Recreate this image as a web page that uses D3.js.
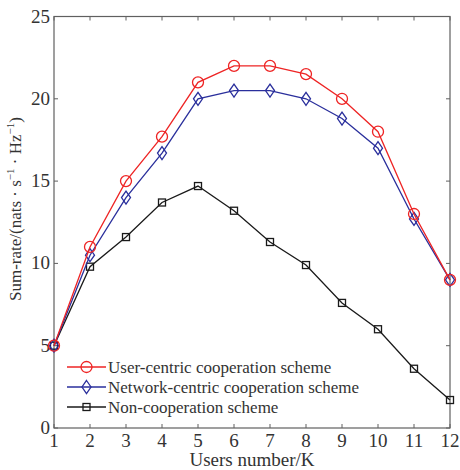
<!DOCTYPE html>
<html>
<head>
<meta charset="utf-8">
<script src="https://cdn.jsdelivr.net/npm/d3@7"></script>
<style>
  body { margin: 0; background: #fff; }
  text { font-family: "Liberation Serif", "Times New Roman", serif; }
</style>
</head>
<body>
<script>
var users = [1, 2, 3, 4, 5, 6, 7, 8, 9, 10, 11, 12];
var userCentric = [5, 11, 15, 17.7, 21, 22, 22, 21.5, 20, 18, 13, 9];
var networkCentric = [5, 10.5, 14, 16.7, 20, 20.5, 20.5, 20, 18.8, 17, 12.7, 9];
var nonCoop = [5, 9.8, 11.6, 13.7, 14.7, 13.2, 11.3, 9.9, 7.6, 6, 3.6, 1.7];
var yTicks = [0, 5, 10, 15, 20, 25];
var seriesNames = ["User-centric cooperation scheme", "Network-centric cooperation scheme", "Non-cooperation scheme"];

var W = 460, H = 470;
// note: "top" is taken by window.top, so use other names
var pLeft = 54, pRight = 450, pTop = 16.5, pBottom = 428;

var svg = d3.select("body").append("svg").attr("width", W).attr("height", H);

var x = d3.scaleLinear().domain([1, 12]).range([pLeft, pRight]);
var y = d3.scaleLinear().domain([0, 25]).range([pBottom, pTop]);

var axisColor = "#606060";

// frame
svg.append("rect")
  .attr("x", pLeft).attr("y", pTop)
  .attr("width", pRight - pLeft).attr("height", pBottom - pTop)
  .attr("fill", "none").attr("stroke", axisColor).attr("stroke-width", 1.2);

// ticks inward on all sides
svg.selectAll("line.xb").data(users).enter().append("line")
  .attr("x1", function (d) { return x(d); }).attr("x2", function (d) { return x(d); })
  .attr("y1", pBottom).attr("y2", pBottom - 4)
  .attr("stroke", axisColor);
svg.selectAll("line.xt").data(users).enter().append("line")
  .attr("x1", function (d) { return x(d); }).attr("x2", function (d) { return x(d); })
  .attr("y1", pTop).attr("y2", pTop + 4)
  .attr("stroke", axisColor);
svg.selectAll("line.yl").data(yTicks).enter().append("line")
  .attr("x1", pLeft).attr("x2", pLeft + 4)
  .attr("y1", function (d) { return y(d); }).attr("y2", function (d) { return y(d); })
  .attr("stroke", axisColor);
svg.selectAll("line.yr").data(yTicks).enter().append("line")
  .attr("x1", pRight).attr("x2", pRight - 4)
  .attr("y1", function (d) { return y(d); }).attr("y2", function (d) { return y(d); })
  .attr("stroke", axisColor);

// tick labels
svg.selectAll("text.xl").data(users).enter().append("text")
  .attr("x", function (d) { return x(d); }).attr("y", 447)
  .attr("text-anchor", "middle").attr("font-size", 19).attr("fill", "#333")
  .text(function (d) { return d; });
svg.selectAll("text.yl").data(yTicks).enter().append("text")
  .attr("x", pLeft - 4).attr("y", function (d) { return y(d) + 6; })
  .attr("text-anchor", "end").attr("font-size", 19).attr("fill", "#333")
  .text(function (d) { return d; });

// axis titles
svg.append("text")
  .attr("x", 252).attr("y", 466)
  .attr("text-anchor", "middle").attr("font-size", 19).attr("fill", "#333")
  .text("Users number/K");

var yl = svg.append("text")
  .attr("transform", "translate(21,209) rotate(-90)")
  .attr("text-anchor", "middle").attr("font-size", 17).attr("fill", "#333");
yl.append("tspan").text("Sum-rate/(nats \u00B7 s");
yl.append("tspan").attr("dy", -7).attr("font-size", 11).text("\u22121");
yl.append("tspan").attr("dy", 7).text(" \u00B7 Hz");
yl.append("tspan").attr("dy", -7).attr("font-size", 11).text("\u22121");
yl.append("tspan").attr("dy", 7).text(")");

var series = [
  { name: seriesNames[0], values: userCentric, color: "#ee2424", marker: "circle" },
  { name: seriesNames[1], values: networkCentric, color: "#2a2f9c", marker: "diamond" },
  { name: seriesNames[2], values: nonCoop, color: "#1a1a1a", marker: "square" }
];

function drawMarker(g, type, cx, cy, color) {
  if (type === "circle") {
    g.append("circle").attr("cx", cx).attr("cy", cy).attr("r", 5.5)
      .attr("fill", "none").attr("stroke", color).attr("stroke-width", 1.3);
  } else if (type === "diamond") {
    g.append("path")
      .attr("d", "M" + cx + "," + (cy - 6.5) + "L" + (cx + 4.5) + "," + cy + "L" + cx + "," + (cy + 6.5) + "L" + (cx - 4.5) + "," + cy + "Z")
      .attr("fill", "none").attr("stroke", color).attr("stroke-width", 1.3);
  } else {
    g.append("rect").attr("x", cx - 3.5).attr("y", cy - 3.5).attr("width", 7).attr("height", 7)
      .attr("fill", "none").attr("stroke", color).attr("stroke-width", 1.3);
  }
}

var line = d3.line()
  .x(function (d) { return x(d[0]); })
  .y(function (d) { return y(d[1]); });

series.slice().reverse().forEach(function (s) {
  var pts = users.map(function (u, i) { return [u, s.values[i]]; });
  var g = svg.append("g");
  g.append("path").datum(pts).attr("d", line)
    .attr("fill", "none").attr("stroke", s.color).attr("stroke-width", 1.3);
  pts.forEach(function (p) { drawMarker(g, s.marker, x(p[0]), y(p[1]), s.color); });
});

// legend
series.forEach(function (s, i) {
  var ly = 367 + i * 20;
  var g = svg.append("g");
  g.append("line").attr("x1", 67).attr("x2", 106).attr("y1", ly).attr("y2", ly)
    .attr("stroke", s.color).attr("stroke-width", 1.3);
  drawMarker(g, s.marker, 86.5, ly, s.color);
  g.append("text").attr("x", 108).attr("y", ly + 6)
    .attr("font-size", 17).attr("fill", "#333").text(s.name);
});
</script>
</body>
</html>
